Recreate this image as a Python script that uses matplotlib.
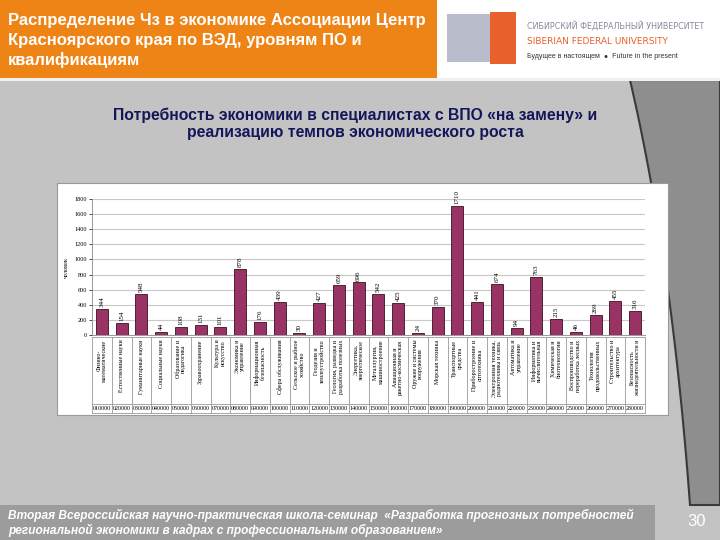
import numpy as np
import matplotlib.pyplot as plt
from matplotlib.patches import Rectangle, Polygon

# chart data
codes = ['010000', '020000', '030000', '040000', '050000', '060000', '070000',
         '080000', '090000', '100000', '110000', '120000', '130000', '140000',
         '150000', '160000', '170000', '180000', '190000', '200000', '210000',
         '220000', '230000', '240000', '250000', '260000', '270000', '280000']
names = ['Физико-\nматематические', 'Естественные науки', 'Гуманитарные науки',
         'Социальные науки', 'Образование и\nпедагогика', 'Здравоохранение',
         'Культура и\nискусство', 'Экономика и\nуправление', 'Информационная\nбезопасность',
         'Сфера обслуживания', 'Сельское и рыбное\nхозяйство', 'Геодезия и\nземлеустройство',
         'Геология, разведка и\nразработка полезных', 'Энергетика,\nэнергетическое',
         'Металлургия,\nмашиностроение', 'Авиационная и\nракетно-космическая',
         'Оружие и системы\nвооружения', 'Морская техника', 'Транспортные\nсредства',
         'Приборостроение и\nоптотехника', 'Электронная техника,\nрадиотехника и связь',
         'Автоматика и\nуправление', 'Информатика и\nвычислительная', 'Химическая и\nбиотехнологии',
         'Воспроизводство и\nпереработка лесных', 'Технология\nпродовольственных',
         'Строительство и\nархитектура', 'Безопасность\nжизнедеятельности и']
values = [344, 154, 548, 44, 108, 131, 101, 878, 176, 439, 30, 427, 659, 696,
          542, 425, 24, 370, 1710, 441, 674, 94, 763, 215, 46, 269, 455, 316]
yticks = list(range(0, 2000, 200))

title = 'Распределение Чз в экономике Ассоциации Центр\nКрасноярского края по ВЭД, уровням ПО и\nквалификациям'
subtitle = 'Потребность экономики в специалистах с ВПО «на замену» и\nреализацию темпов экономического роста'
footer = ('Вторая Всероссийская научно-практическая школа-семинар  «Разработка прогнозных потребностей\n'
          'региональной экономики в кадрах с профессиональным образованием»')

W, H = 720, 540
fig = plt.figure(figsize=(7.2, 5.4), dpi=100)
fig.patch.set_facecolor('#c3c3c3')


def px(x, y):
    return x / W, 1 - y / H


def rect(x0, y0, x1, y1, **kw):
    fig.add_artist(Rectangle(px(x0, y1), (x1 - x0) / W, (y1 - y0) / H,
                             transform=fig.transFigure, **kw))


# dark area on the right side of slide
t = np.linspace(0, 1, 40)
cx = (1 - t) ** 2 * 630 + 2 * (1 - t) * t * 672 + t ** 2 * 690
cy = (1 - t) ** 2 * 80 + 2 * (1 - t) * t * 260 + t ** 2 * 505
pts = [px(a, b) for a, b in zip(cx, cy)] + [px(720, 505), px(720, 80)]
fig.add_artist(Polygon(pts, closed=True, transform=fig.transFigure,
                       facecolor='#8e8e8e', edgecolor='#3a3a3a', lw=1.5))

# header
rect(0, 0, 437, 78, facecolor='#ee8416', edgecolor='none')
rect(437, 0, 720, 78, facecolor='white', edgecolor='none')
rect(0, 78, 720, 81, facecolor='#f0f0f0', edgecolor='none')
fig.text(*px(8, 20), title.split('\n')[0], color='white', fontsize=12, fontweight='bold',
         family='Liberation Sans', va='center', ha='left')
fig.text(*px(8, 40), title.split('\n')[1], color='white', fontsize=12, fontweight='bold',
         family='Liberation Sans', va='center', ha='left')
fig.text(*px(8, 60), title.split('\n')[2], color='white', fontsize=12, fontweight='bold',
         family='Liberation Sans', va='center', ha='left')

# logo
rect(447, 14, 490, 62, facecolor='#b8bccb', edgecolor='none')
rect(490, 12, 516, 64, facecolor='#e8602c', edgecolor='none')
fig.text(*px(527, 26), 'СИБИРСКИЙ ФЕДЕРАЛЬНЫЙ УНИВЕРСИТЕТ', color='#8a8a9a',
         fontsize=5.8, family='Liberation Sans Narrow', va='center')
fig.text(*px(527, 42), 'SIBERIAN FEDERAL UNIVERSITY', color='#e8602c',
         fontsize=6.5, family='Liberation Sans Narrow', va='center')
fig.text(*px(527, 56), 'Будущее в настоящем  ●  Future in the present', color='#333333',
         fontsize=5, family='Liberation Sans', va='center')

fig.text(*px(355, 124), subtitle, color='#15155a', fontsize=11.3, fontweight='bold',
         family='Liberation Sans', ha='center', va='center', linespacing=1.2)

# footer
rect(0, 505, 655, 540, facecolor='#9c9c9c', edgecolor='none')
fig.text(*px(8, 523), footer, color='white', fontsize=8.6, fontweight='bold',
         style='italic', family='Liberation Sans', va='center', linespacing=1.2)
fig.text(*px(697, 522), '30', color='white', fontsize=12, family='Liberation Sans',
         ha='center', va='center')

# chart box
rect(57, 183, 668, 415, facecolor='white', edgecolor='#9a9a9a', lw=0.8)

ax = fig.add_axes([92 / W, 1 - 335 / H, (645 - 92) / W, 136 / H])
ax.set_zorder(5)
ax.set_facecolor('white')
x = np.arange(len(values))
ax.bar(x, values, width=0.6, color='#993366', edgecolor='#3a1020', lw=0.6, zorder=3)
for xi, v in zip(x, values):
    ax.text(xi, v + 25, str(v), rotation=90, ha='center', va='bottom',
            fontsize=5, family='Liberation Serif', zorder=4)
ax.set_xlim(-0.5, len(values) - 0.5)
ax.set_ylim(0, 1800)
ax.set_yticks(yticks)
ax.set_yticklabels([str(v) for v in yticks], fontsize=4.5, family='Liberation Serif')
ax.yaxis.grid(True, color='#c8c8c8', lw=0.8, zorder=0)
ax.set_xticks([])
ax.tick_params(axis='y', length=2, width=0.5, pad=1.5)
for s in ['top', 'right']:
    ax.spines[s].set_visible(False)
for s in ['left', 'bottom']:
    ax.spines[s].set_color('#888888')
    ax.spines[s].set_linewidth(0.6)
ax.set_ylabel('человек', fontsize=4.5, family='Liberation Serif', labelpad=4)

# category table under the axis
tr = ax.get_xaxis_transform()
y_top, y_mid, y_bot = -2 / 136, -69 / 136, -78 / 136
for xi, nm, cd in zip(x, names, codes):
    ax.text(xi, y_top - 0.02, nm, rotation=90, ha='center', va='top', fontsize=4.3,
            family='Liberation Serif', transform=tr, linespacing=1.1, clip_on=False)
    ax.text(xi, (y_mid + y_bot) / 2, cd, ha='center', va='center', fontsize=4.3,
            family='Liberation Serif', transform=tr, clip_on=False)
for xb in np.arange(len(values) + 1) - 0.5:
    ax.plot([xb, xb], [y_top, y_bot], transform=tr, color='#999999', lw=0.6, clip_on=False)
for yb in [y_top, y_mid, y_bot]:
    ax.plot([-0.5, len(values) - 0.5], [yb, yb], transform=tr, color='#999999', lw=0.6,
            clip_on=False)

fig.savefig('out.png', dpi=100, facecolor=fig.get_facecolor())
